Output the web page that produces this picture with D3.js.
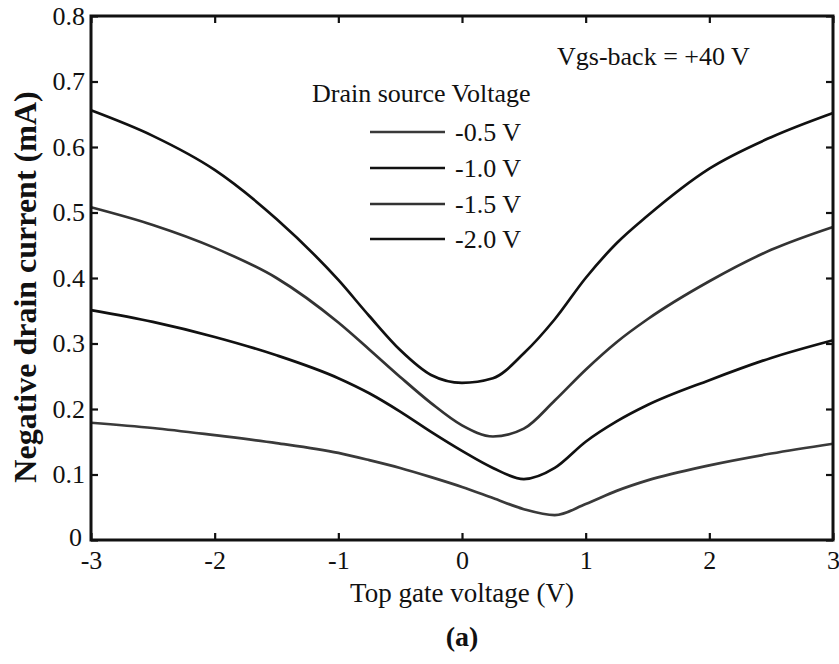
<!DOCTYPE html>
<html>
<head>
<meta charset="utf-8">
<script src="https://cdn.jsdelivr.net/npm/d3@7"></script>
<style>
  body { margin: 0; background: #fff; }
  svg text { font-family: "Liberation Serif", "Times New Roman", serif; fill: #111; }
</style>
</head>
<body>
<div id="chart"></div>
<script>
// top gate voltage (V)
var gateV = [-3, -2.5, -2, -1.5, -1, -0.75, -0.5, -0.25, 0, 0.25, 0.5, 0.75, 1, 1.25, 1.5, 2, 2.5, 3];

// negative drain current (mA), one array per drain source voltage
var vds05 = [0.179, 0.171, 0.160, 0.148, 0.133, 0.122, 0.110, 0.096, 0.081, 0.064, 0.047, 0.038, 0.055, 0.075, 0.091, 0.114, 0.132, 0.147];
var vds10 = [0.351, 0.333, 0.310, 0.282, 0.247, 0.224, 0.196, 0.165, 0.136, 0.110, 0.093, 0.110, 0.150, 0.181, 0.206, 0.244, 0.278, 0.305];
var vds15 = [0.508, 0.481, 0.446, 0.400, 0.332, 0.291, 0.249, 0.209, 0.175, 0.158, 0.170, 0.213, 0.260, 0.302, 0.337, 0.395, 0.443, 0.478];
var vds20 = [0.656, 0.617, 0.565, 0.490, 0.397, 0.342, 0.290, 0.252, 0.240, 0.247, 0.285, 0.337, 0.400, 0.453, 0.495, 0.567, 0.615, 0.652];

var seriesNames = ["-0.5 V", "-1.0 V", "-1.5 V", "-2.0 V"];
var seriesColors = ["#3a3a3a", "#111", "#333", "#111"];
var xTicks = [-3, -2, -1, 0, 1, 2, 3];
var yTicks = [0, 0.1, 0.2, 0.3, 0.4, 0.5, 0.6, 0.7, 0.8];

var width = 839, height = 664;
var margin = { top: 16, right: 6, bottom: 124, left: 91 };

var svg = d3.select("#chart").append("svg")
	.attr("width", width)
	.attr("height", height);

var x = d3.scaleLinear().domain([-3, 3]).range([margin.left, width - margin.right]);
var y = d3.scaleLinear().domain([0, 0.8]).range([height - margin.bottom, margin.top]);

// curves
var allSeries = [vds05, vds10, vds15, vds20];
var line = d3.line()
	.x(function(d, i) { return x(gateV[i]); })
	.y(function(d) { return y(d); })
	.curve(d3.curveMonotoneX);

svg.append("g").selectAll("path")
	.data(allSeries)
	.enter().append("path")
	.attr("d", line)
	.attr("fill", "none")
	.attr("stroke", function(d, i) { return seriesColors[i]; })
	.attr("stroke-width", 2.7);

// frame with inward ticks
svg.append("rect")
	.attr("x", x(-3)).attr("y", y(0.8))
	.attr("width", x(3) - x(-3)).attr("height", y(0) - y(0.8))
	.attr("fill", "none").attr("stroke", "#111").attr("stroke-width", 3);

var tickLen = 7;
var fontTick = 26;

// bottom axis
var axBottom = svg.append("g").attr("transform", "translate(0," + y(0) + ")")
	.call(d3.axisBottom(x).tickValues(xTicks).tickSize(-tickLen).tickPadding(11)
		.tickFormat(function(d) { return d; }));
// top ticks
var axTop = svg.append("g").attr("transform", "translate(0," + y(0.8) + ")")
	.call(d3.axisTop(x).tickValues(xTicks).tickSize(-tickLen).tickFormat(""));
// left axis
var axLeft = svg.append("g").attr("transform", "translate(" + x(-3) + ",0)")
	.call(d3.axisLeft(y).tickValues(yTicks).tickSize(-tickLen).tickPadding(6)
		.tickFormat(function(d) { return d === 0 ? "0" : d3.format(".1f")(d); }));
// right ticks
var axRight = svg.append("g").attr("transform", "translate(" + x(3) + ",0)")
	.call(d3.axisRight(y).tickValues(yTicks).tickSize(-tickLen).tickFormat(""));

[axBottom, axTop, axLeft, axRight].forEach(function(g) {
	g.select(".domain").remove();
	g.selectAll(".tick line").attr("stroke", "#111").attr("stroke-width", 2.2);
	g.selectAll(".tick text")
		.style("font-family", "'Liberation Serif', serif")
		.style("font-size", fontTick + "px")
		.attr("fill", "#111");
});
axLeft.selectAll(".tick text").filter(function(d) { return d === 0; })
	.attr("x", -9).attr("dy", "0.2em");

// axis titles
svg.append("text")
	.attr("x", x(0)).attr("y", 602)
	.attr("text-anchor", "middle")
	.style("font-size", "27px")
	.text("Top gate voltage (V)");

svg.append("text")
	.attr("transform", "translate(36,287) rotate(-90)")
	.attr("text-anchor", "middle")
	.style("font-size", "32px")
	.style("font-weight", "bold")
	.text("Negative drain current (mA)");

svg.append("text")
	.attr("x", x(0)).attr("y", 646)
	.attr("text-anchor", "middle")
	.style("font-size", "28px")
	.style("font-weight", "bold")
	.text("(a)");

// annotation
svg.append("text")
	.attr("x", 557).attr("y", 65)
	.style("font-size", "26px")
	.text("Vgs-back = +40 V");

// legend
var legend = svg.append("g");
legend.append("text")
	.attr("x", 312).attr("y", 102)
	.style("font-size", "26px")
	.text("Drain source Voltage");

var legendY = [132, 168, 204, 239];
var item = legend.selectAll(".item")
	.data(seriesNames)
	.enter().append("g")
	.attr("class", "item")
	.attr("transform", function(d, i) { return "translate(0," + legendY[i] + ")"; });
item.append("line")
	.attr("x1", 370).attr("x2", 445)
	.attr("stroke", function(d, i) { return seriesColors[i]; })
	.attr("stroke-width", 2.7);
item.append("text")
	.attr("x", 455).attr("y", 9)
	.style("font-size", "26px")
	.text(function(d) { return d; });
</script>
</body>
</html>
